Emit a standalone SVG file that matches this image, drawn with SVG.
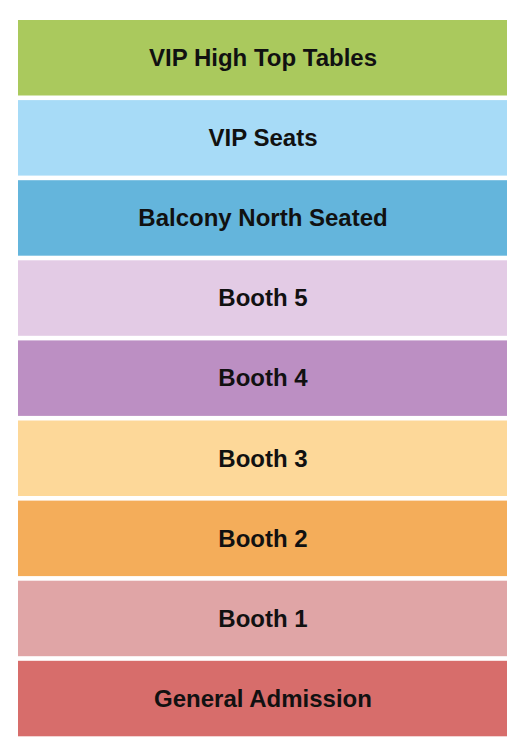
<svg xmlns="http://www.w3.org/2000/svg" width="525" height="750" viewBox="0 0 525 750">
<style>
text{font-family:"Liberation Sans",Arial,sans-serif;font-weight:bold;font-size:24px;fill:#111;text-anchor:middle}
</style>
<rect width="525" height="750" fill="#fff"/>
<g id="vip-high-top"><rect x="18" y="20" width="489" height="75.5" fill="#aac95d"/><text x="263" y="66">VIP High Top Tables</text></g>
<g id="vip-seats"><rect x="18" y="100.1" width="489" height="75.5" fill="#a7dbf7"/><text x="263" y="146">VIP Seats</text></g>
<g id="balcony-north"><rect x="18" y="180.2" width="489" height="75.5" fill="#64b5dc"/><text x="263" y="226">Balcony North Seated</text></g>
<g id="booth5"><rect x="18" y="260.3" width="489" height="75.5" fill="#e3cbe5"/><text x="263" y="306">Booth 5</text></g>
<g id="booth4"><rect x="18" y="340.4" width="489" height="75.5" fill="#bc8fc3"/><text x="263" y="386">Booth 4</text></g>
<g id="booth3"><rect x="18" y="420.5" width="489" height="75.5" fill="#fdd899"/><text x="263" y="467">Booth 3</text></g>
<g id="booth2"><rect x="18" y="500.6" width="489" height="75.5" fill="#f4ad5a"/><text x="263" y="547">Booth 2</text></g>
<g id="booth1"><rect x="18" y="580.7" width="489" height="75.5" fill="#e0a5a6"/><text x="263" y="627">Booth 1</text></g>
<g id="general-admission"><rect x="18" y="660.8" width="489" height="75.5" fill="#d76d6b"/><text x="263" y="707">General Admission</text></g>
</svg>
